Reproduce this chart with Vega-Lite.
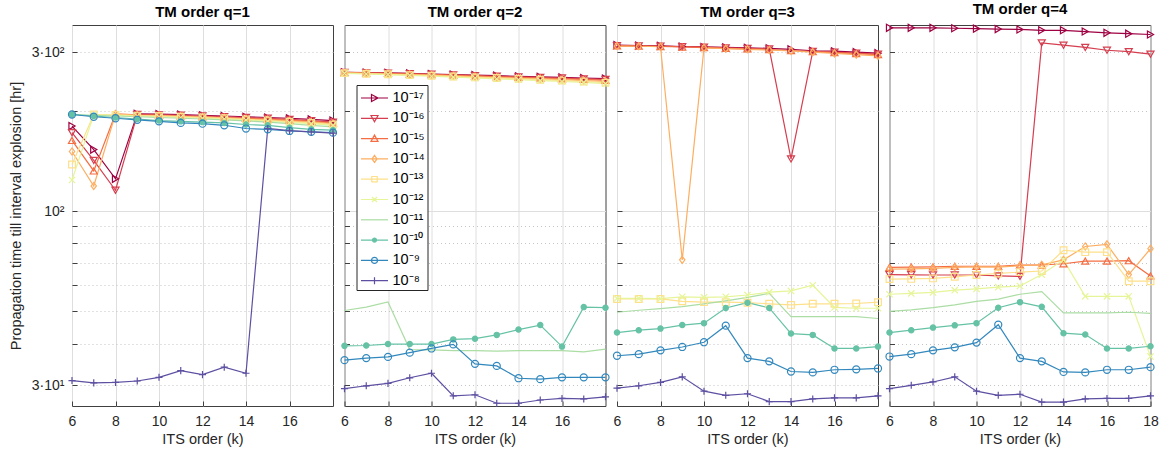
{
"$schema": "https://vega.github.io/schema/vega-lite/v6.json",
"background": "white",
"padding": {"left": 7, "top": 1, "right": 2, "bottom": 2},
"spacing": 11.5,
"bounds": "flush",
"resolve": {"legend": {"color": "independent", "stroke": "independent", "shape": "independent", "fill": "independent"}},
"config": {
 "font": "Liberation Sans",
 "view": {"stroke": "#404040", "strokeWidth": 1},
 "axis": {"labelFont": "Liberation Sans", "labelFontSize": 14, "labelColor": "#262626", "labelFlush": false, "titleFont": "Liberation Sans", "titleFontSize": 14.5, "titleFontWeight": "normal", "titleColor": "#262626", "domain": false, "tickColor": "#404040", "tickSize": -5, "tickWidth": 1, "gridColor": "#dedede", "gridWidth": 1},
 "title": {"font": "Liberation Sans", "fontSize": 15, "fontWeight": "bold", "color": "#000000", "offset": 5, "baseline": "alphabetic"}
},
"datasets": {
"p1": [
{"s":17,"k":6,"t":180},{"s":17,"k":7,"t":153},{"s":17,"k":8,"t":125},{"s":17,"k":9,"t":196},{"s":17,"k":10,"t":195.5},{"s":17,"k":11,"t":195},{"s":17,"k":12,"t":194},{"s":17,"k":13,"t":193},{"s":17,"k":14,"t":192},{"s":17,"k":15,"t":191},{"s":17,"k":16,"t":190},{"s":17,"k":17,"t":188.5},{"s":17,"k":18,"t":187},
{"s":16,"k":6,"t":172},{"s":16,"k":7,"t":142},{"s":16,"k":8,"t":115.5},{"s":16,"k":9,"t":195},{"s":16,"k":10,"t":194.5},{"s":16,"k":11,"t":194},{"s":16,"k":12,"t":193},{"s":16,"k":13,"t":192},{"s":16,"k":14,"t":191},{"s":16,"k":15,"t":190},{"s":16,"k":16,"t":188.5},{"s":16,"k":17,"t":187},{"s":16,"k":18,"t":185},
{"s":15,"k":6,"t":163},{"s":15,"k":7,"t":132},{"s":15,"k":8,"t":196},{"s":15,"k":9,"t":194.5},{"s":15,"k":10,"t":194},{"s":15,"k":11,"t":193},{"s":15,"k":12,"t":192},{"s":15,"k":13,"t":191},{"s":15,"k":14,"t":190},{"s":15,"k":15,"t":189},{"s":15,"k":16,"t":187.5},{"s":15,"k":17,"t":186},{"s":15,"k":18,"t":184},
{"s":14,"k":6,"t":151},{"s":14,"k":7,"t":119},{"s":14,"k":8,"t":195.5},{"s":14,"k":9,"t":194},{"s":14,"k":10,"t":193.5},{"s":14,"k":11,"t":192.5},{"s":14,"k":12,"t":191.5},{"s":14,"k":13,"t":190.5},{"s":14,"k":14,"t":189},{"s":14,"k":15,"t":188},{"s":14,"k":16,"t":186.5},{"s":14,"k":17,"t":185},{"s":14,"k":18,"t":183},
{"s":13,"k":6,"t":138},{"s":13,"k":7,"t":195},{"s":13,"k":8,"t":194.5},{"s":13,"k":9,"t":193.5},{"s":13,"k":10,"t":193},{"s":13,"k":11,"t":192},{"s":13,"k":12,"t":191},{"s":13,"k":13,"t":190},{"s":13,"k":14,"t":188.5},{"s":13,"k":15,"t":187},{"s":13,"k":16,"t":185.5},{"s":13,"k":17,"t":184},{"s":13,"k":18,"t":182},
{"s":12,"k":6,"t":124},{"s":12,"k":7,"t":194.5},{"s":12,"k":8,"t":194},{"s":12,"k":9,"t":193},{"s":12,"k":10,"t":192},{"s":12,"k":11,"t":191},{"s":12,"k":12,"t":190},{"s":12,"k":13,"t":189},{"s":12,"k":14,"t":187.5},{"s":12,"k":15,"t":186},{"s":12,"k":16,"t":184.5},{"s":12,"k":17,"t":183},{"s":12,"k":18,"t":181},
{"s":11,"k":6,"t":195},{"s":11,"k":7,"t":194},{"s":11,"k":8,"t":193},{"s":11,"k":9,"t":192},{"s":11,"k":10,"t":191},{"s":11,"k":11,"t":190},{"s":11,"k":12,"t":189},{"s":11,"k":13,"t":188},{"s":11,"k":14,"t":186.5},{"s":11,"k":15,"t":185},{"s":11,"k":16,"t":183},{"s":11,"k":17,"t":181},{"s":11,"k":18,"t":179},
{"s":10,"k":6,"t":195},{"s":10,"k":7,"t":193},{"s":10,"k":8,"t":191},{"s":10,"k":9,"t":189},{"s":10,"k":10,"t":187},{"s":10,"k":11,"t":186},{"s":10,"k":12,"t":185},{"s":10,"k":13,"t":184},{"s":10,"k":14,"t":182},{"s":10,"k":15,"t":181},{"s":10,"k":16,"t":178},{"s":10,"k":17,"t":176},{"s":10,"k":18,"t":175},
{"s":9,"k":6,"t":195},{"s":9,"k":7,"t":192},{"s":9,"k":8,"t":190},{"s":9,"k":9,"t":188},{"s":9,"k":10,"t":186},{"s":9,"k":11,"t":184},{"s":9,"k":12,"t":183},{"s":9,"k":13,"t":181},{"s":9,"k":14,"t":177},{"s":9,"k":15,"t":176},{"s":9,"k":16,"t":174},{"s":9,"k":17,"t":173},{"s":9,"k":18,"t":172},
{"s":8,"k":6,"t":31},{"s":8,"k":7,"t":30.5},{"s":8,"k":8,"t":30.6},{"s":8,"k":9,"t":30.9},{"s":8,"k":10,"t":31.7},{"s":8,"k":11,"t":33.2},{"s":8,"k":12,"t":32.3},{"s":8,"k":13,"t":34},{"s":8,"k":14,"t":32.6},{"s":8,"k":15,"t":177},{"s":8,"k":16,"t":174.5},{"s":8,"k":17,"t":173},{"s":8,"k":18,"t":171.5}
],
"p2": [
{"s":17,"k":6,"t":261},{"s":17,"k":7,"t":260.5},{"s":17,"k":8,"t":260},{"s":17,"k":9,"t":259},{"s":17,"k":10,"t":258},{"s":17,"k":11,"t":257},{"s":17,"k":12,"t":256},{"s":17,"k":13,"t":255},{"s":17,"k":14,"t":254},{"s":17,"k":15,"t":253},{"s":17,"k":16,"t":252},{"s":17,"k":17,"t":251},{"s":17,"k":18,"t":250},
{"s":16,"k":6,"t":261},{"s":16,"k":7,"t":260},{"s":16,"k":8,"t":259.5},{"s":16,"k":9,"t":258.5},{"s":16,"k":10,"t":257.5},{"s":16,"k":11,"t":256.5},{"s":16,"k":12,"t":255},{"s":16,"k":13,"t":254},{"s":16,"k":14,"t":253},{"s":16,"k":15,"t":252},{"s":16,"k":16,"t":251},{"s":16,"k":17,"t":249.5},{"s":16,"k":18,"t":248.5},
{"s":15,"k":6,"t":260.5},{"s":15,"k":7,"t":259.5},{"s":15,"k":8,"t":259},{"s":15,"k":9,"t":258},{"s":15,"k":10,"t":257},{"s":15,"k":11,"t":255.5},{"s":15,"k":12,"t":254.5},{"s":15,"k":13,"t":253},{"s":15,"k":14,"t":252},{"s":15,"k":15,"t":251},{"s":15,"k":16,"t":249.5},{"s":15,"k":17,"t":248.5},{"s":15,"k":18,"t":247},
{"s":14,"k":6,"t":260},{"s":14,"k":7,"t":259},{"s":14,"k":8,"t":258},{"s":14,"k":9,"t":257},{"s":14,"k":10,"t":256},{"s":14,"k":11,"t":254.5},{"s":14,"k":12,"t":253},{"s":14,"k":13,"t":252},{"s":14,"k":14,"t":250.5},{"s":14,"k":15,"t":249.5},{"s":14,"k":16,"t":248},{"s":14,"k":17,"t":246.5},{"s":14,"k":18,"t":245},
{"s":13,"k":6,"t":259.5},{"s":13,"k":7,"t":258.5},{"s":13,"k":8,"t":257.5},{"s":13,"k":9,"t":256},{"s":13,"k":10,"t":255},{"s":13,"k":11,"t":253.5},{"s":13,"k":12,"t":252},{"s":13,"k":13,"t":251},{"s":13,"k":14,"t":249.5},{"s":13,"k":15,"t":248},{"s":13,"k":16,"t":246.5},{"s":13,"k":17,"t":245},{"s":13,"k":18,"t":243},
{"s":12,"k":6,"t":259},{"s":12,"k":7,"t":258},{"s":12,"k":8,"t":257},{"s":12,"k":9,"t":255.5},{"s":12,"k":10,"t":254},{"s":12,"k":11,"t":252.5},{"s":12,"k":12,"t":251},{"s":12,"k":13,"t":249.5},{"s":12,"k":14,"t":248},{"s":12,"k":15,"t":246.5},{"s":12,"k":16,"t":245},{"s":12,"k":17,"t":243.5},{"s":12,"k":18,"t":241.5},
{"s":11,"k":6,"t":50.3},{"s":11,"k":7,"t":51.5},{"s":11,"k":8,"t":53.4},{"s":11,"k":9,"t":38.4},{"s":11,"k":10,"t":38.3},{"s":11,"k":11,"t":38.1},{"s":11,"k":12,"t":38.1},{"s":11,"k":13,"t":38},{"s":11,"k":14,"t":38.1},{"s":11,"k":15,"t":38.1},{"s":11,"k":16,"t":38.1},{"s":11,"k":17,"t":37.8},{"s":11,"k":18,"t":38.5},
{"s":10,"k":6,"t":39.4},{"s":10,"k":7,"t":39.5},{"s":10,"k":8,"t":39.9},{"s":10,"k":9,"t":39.9},{"s":10,"k":10,"t":39.9},{"s":10,"k":11,"t":41.2},{"s":10,"k":12,"t":41.4},{"s":10,"k":13,"t":42.5},{"s":10,"k":14,"t":44.1},{"s":10,"k":15,"t":45.5},{"s":10,"k":16,"t":39.2},{"s":10,"k":17,"t":51.5},{"s":10,"k":18,"t":51.3},
{"s":9,"k":6,"t":35.7},{"s":9,"k":7,"t":36.2},{"s":9,"k":8,"t":36.5},{"s":9,"k":9,"t":37.6},{"s":9,"k":10,"t":38.7},{"s":9,"k":11,"t":39.8},{"s":9,"k":12,"t":34.8},{"s":9,"k":13,"t":34.3},{"s":9,"k":14,"t":31.5},{"s":9,"k":15,"t":31.3},{"s":9,"k":16,"t":31.7},{"s":9,"k":17,"t":31.7},{"s":9,"k":18,"t":31.7},
{"s":8,"k":6,"t":29.3},{"s":8,"k":7,"t":29.9},{"s":8,"k":8,"t":30.4},{"s":8,"k":9,"t":31.6},{"s":8,"k":10,"t":32.6},{"s":8,"k":11,"t":27.9},{"s":8,"k":12,"t":28.1},{"s":8,"k":13,"t":26.5},{"s":8,"k":14,"t":26.5},{"s":8,"k":15,"t":27.1},{"s":8,"k":16,"t":27.4},{"s":8,"k":17,"t":27.3},{"s":8,"k":18,"t":27.7}
],
"p3": [
{"s":17,"k":6,"t":315},{"s":17,"k":7,"t":314},{"s":17,"k":8,"t":313.5},{"s":17,"k":9,"t":312},{"s":17,"k":10,"t":311},{"s":17,"k":11,"t":310},{"s":17,"k":12,"t":309},{"s":17,"k":13,"t":308},{"s":17,"k":14,"t":306},{"s":17,"k":15,"t":303},{"s":17,"k":16,"t":302},{"s":17,"k":17,"t":300},{"s":17,"k":18,"t":298},
{"s":16,"k":6,"t":314},{"s":16,"k":7,"t":313.5},{"s":16,"k":8,"t":313},{"s":16,"k":9,"t":311.5},{"s":16,"k":10,"t":310.5},{"s":16,"k":11,"t":309},{"s":16,"k":12,"t":308},{"s":16,"k":13,"t":307},{"s":16,"k":14,"t":143.5},{"s":16,"k":15,"t":301.5},{"s":16,"k":16,"t":300},{"s":16,"k":17,"t":298},{"s":16,"k":18,"t":296},
{"s":15,"k":6,"t":313.5},{"s":15,"k":7,"t":313},{"s":15,"k":8,"t":312},{"s":15,"k":9,"t":311},{"s":15,"k":10,"t":309.5},{"s":15,"k":11,"t":308},{"s":15,"k":12,"t":307},{"s":15,"k":13,"t":305.5},{"s":15,"k":14,"t":303.5},{"s":15,"k":15,"t":301},{"s":15,"k":16,"t":299},{"s":15,"k":17,"t":297},{"s":15,"k":18,"t":295},
{"s":14,"k":6,"t":313},{"s":14,"k":7,"t":312.5},{"s":14,"k":8,"t":311.5},{"s":14,"k":9,"t":71.4},{"s":14,"k":10,"t":309},{"s":14,"k":11,"t":307.5},{"s":14,"k":12,"t":306},{"s":14,"k":13,"t":304.5},{"s":14,"k":14,"t":302.5},{"s":14,"k":15,"t":300},{"s":14,"k":16,"t":297.5},{"s":14,"k":17,"t":295},{"s":14,"k":18,"t":292.5},
{"s":13,"k":6,"t":54.5},{"s":13,"k":7,"t":54.5},{"s":13,"k":8,"t":54.5},{"s":13,"k":9,"t":53.6},{"s":13,"k":10,"t":53.3},{"s":13,"k":11,"t":53.3},{"s":13,"k":12,"t":53.1},{"s":13,"k":13,"t":52.7},{"s":13,"k":14,"t":52.3},{"s":13,"k":15,"t":52.7},{"s":13,"k":16,"t":52.7},{"s":13,"k":17,"t":52.8},{"s":13,"k":18,"t":53.3},
{"s":12,"k":6,"t":54.7},{"s":12,"k":7,"t":54.7},{"s":12,"k":8,"t":54.6},{"s":12,"k":9,"t":55.3},{"s":12,"k":10,"t":55.1},{"s":12,"k":11,"t":55.3},{"s":12,"k":12,"t":56},{"s":12,"k":13,"t":57.1},{"s":12,"k":14,"t":57.6},{"s":12,"k":15,"t":59.9},{"s":12,"k":16,"t":51.4},{"s":12,"k":17,"t":51.1},{"s":12,"k":18,"t":51.1},
{"s":11,"k":6,"t":49.7},{"s":11,"k":7,"t":50.4},{"s":11,"k":8,"t":51},{"s":11,"k":9,"t":51.7},{"s":11,"k":10,"t":52.7},{"s":11,"k":11,"t":53.8},{"s":11,"k":12,"t":55.1},{"s":11,"k":13,"t":56.6},{"s":11,"k":14,"t":48.2},{"s":11,"k":15,"t":48.2},{"s":11,"k":16,"t":48.2},{"s":11,"k":17,"t":48.2},{"s":11,"k":18,"t":47.6},
{"s":10,"k":6,"t":43.2},{"s":10,"k":7,"t":43.9},{"s":10,"k":8,"t":44.4},{"s":10,"k":9,"t":45.5},{"s":10,"k":10,"t":46.1},{"s":10,"k":11,"t":51.2},{"s":10,"k":12,"t":53.1},{"s":10,"k":13,"t":51.2},{"s":10,"k":14,"t":42.9},{"s":10,"k":15,"t":42.5},{"s":10,"k":16,"t":38.7},{"s":10,"k":17,"t":38.7},{"s":10,"k":18,"t":39.2},
{"s":9,"k":6,"t":36.8},{"s":9,"k":7,"t":37.2},{"s":9,"k":8,"t":38.2},{"s":9,"k":9,"t":39.1},{"s":9,"k":10,"t":40.4},{"s":9,"k":11,"t":45.3},{"s":9,"k":12,"t":36.2},{"s":9,"k":13,"t":35.4},{"s":9,"k":14,"t":33},{"s":9,"k":15,"t":32.8},{"s":9,"k":16,"t":33.4},{"s":9,"k":17,"t":33.5},{"s":9,"k":18,"t":33.7},
{"s":8,"k":6,"t":29.4},{"s":8,"k":7,"t":29.9},{"s":8,"k":8,"t":30.6},{"s":8,"k":9,"t":31.8},{"s":8,"k":10,"t":28.8},{"s":8,"k":11,"t":28},{"s":8,"k":12,"t":28.3},{"s":8,"k":13,"t":26.8},{"s":8,"k":14,"t":26.8},{"s":8,"k":15,"t":27.3},{"s":8,"k":16,"t":27.5},{"s":8,"k":17,"t":27.5},{"s":8,"k":18,"t":27.9}
],
"p4": [
{"s":17,"k":6,"t":355},{"s":17,"k":7,"t":355},{"s":17,"k":8,"t":355},{"s":17,"k":9,"t":354},{"s":17,"k":10,"t":353},{"s":17,"k":11,"t":352},{"s":17,"k":12,"t":351},{"s":17,"k":13,"t":349},{"s":17,"k":14,"t":349},{"s":17,"k":15,"t":346},{"s":17,"k":16,"t":343},{"s":17,"k":17,"t":341},{"s":17,"k":18,"t":339},
{"s":16,"k":6,"t":64.5},{"s":16,"k":7,"t":64.4},{"s":16,"k":8,"t":64.3},{"s":16,"k":9,"t":64.3},{"s":16,"k":10,"t":64.3},{"s":16,"k":11,"t":63.9},{"s":16,"k":12,"t":63.7},{"s":16,"k":13,"t":320},{"s":16,"k":14,"t":315},{"s":16,"k":15,"t":310},{"s":16,"k":16,"t":304},{"s":16,"k":17,"t":301},{"s":16,"k":18,"t":296},
{"s":15,"k":6,"t":67.8},{"s":15,"k":7,"t":67.9},{"s":15,"k":8,"t":68},{"s":15,"k":9,"t":68.3},{"s":15,"k":10,"t":68.3},{"s":15,"k":11,"t":68.3},{"s":15,"k":12,"t":68.9},{"s":15,"k":13,"t":68.9},{"s":15,"k":14,"t":69.5},{"s":15,"k":15,"t":70.8},{"s":15,"k":16,"t":70.8},{"s":15,"k":17,"t":71},{"s":15,"k":18,"t":63.9},
{"s":14,"k":6,"t":67},{"s":14,"k":7,"t":67.1},{"s":14,"k":8,"t":67.3},{"s":14,"k":9,"t":67.8},{"s":14,"k":10,"t":68},{"s":14,"k":11,"t":67.9},{"s":14,"k":12,"t":68.6},{"s":14,"k":13,"t":69},{"s":14,"k":14,"t":71.4},{"s":14,"k":15,"t":78.3},{"s":14,"k":16,"t":79.5},{"s":14,"k":17,"t":64.5},{"s":14,"k":18,"t":77.1},
{"s":13,"k":6,"t":62.5},{"s":13,"k":7,"t":62.6},{"s":13,"k":8,"t":62.8},{"s":13,"k":9,"t":63.5},{"s":13,"k":10,"t":64.3},{"s":13,"k":11,"t":65},{"s":13,"k":12,"t":65.6},{"s":13,"k":13,"t":66.1},{"s":13,"k":14,"t":76.3},{"s":13,"k":15,"t":75.3},{"s":13,"k":16,"t":75.3},{"s":13,"k":17,"t":61.6},{"s":13,"k":18,"t":61.6},
{"s":12,"k":6,"t":56.3},{"s":12,"k":7,"t":56.6},{"s":12,"k":8,"t":57},{"s":12,"k":9,"t":57.9},{"s":12,"k":10,"t":58.4},{"s":12,"k":11,"t":59.1},{"s":12,"k":12,"t":59.6},{"s":12,"k":13,"t":64.5},{"s":12,"k":14,"t":71.4},{"s":12,"k":15,"t":55.5},{"s":12,"k":16,"t":55.5},{"s":12,"k":17,"t":55.5},{"s":12,"k":18,"t":36.6},
{"s":11,"k":6,"t":50},{"s":11,"k":7,"t":50.5},{"s":11,"k":8,"t":51.3},{"s":11,"k":9,"t":52.3},{"s":11,"k":10,"t":53.6},{"s":11,"k":11,"t":54.4},{"s":11,"k":12,"t":56.3},{"s":11,"k":13,"t":57.3},{"s":11,"k":14,"t":49.5},{"s":11,"k":15,"t":49.5},{"s":11,"k":16,"t":49.5},{"s":11,"k":17,"t":49.7},{"s":11,"k":18,"t":49.3},
{"s":10,"k":6,"t":43.2},{"s":10,"k":7,"t":43.9},{"s":10,"k":8,"t":44.7},{"s":10,"k":9,"t":45.4},{"s":10,"k":10,"t":46.1},{"s":10,"k":11,"t":51.3},{"s":10,"k":12,"t":53.3},{"s":10,"k":13,"t":51.6},{"s":10,"k":14,"t":43},{"s":10,"k":15,"t":42.6},{"s":10,"k":16,"t":38.7},{"s":10,"k":17,"t":38.7},{"s":10,"k":18,"t":39.3},
{"s":9,"k":6,"t":36.6},{"s":9,"k":7,"t":37.2},{"s":9,"k":8,"t":38.2},{"s":9,"k":9,"t":39},{"s":9,"k":10,"t":40.3},{"s":9,"k":11,"t":45.6},{"s":9,"k":12,"t":36.2},{"s":9,"k":13,"t":35.4},{"s":9,"k":14,"t":32.9},{"s":9,"k":15,"t":32.8},{"s":9,"k":16,"t":33.4},{"s":9,"k":17,"t":33.4},{"s":9,"k":18,"t":34},
{"s":8,"k":6,"t":29.3},{"s":8,"k":7,"t":30},{"s":8,"k":8,"t":30.7},{"s":8,"k":9,"t":31.8},{"s":8,"k":10,"t":28.8},{"s":8,"k":11,"t":28},{"s":8,"k":12,"t":28.2},{"s":8,"k":13,"t":26.7},{"s":8,"k":14,"t":26.7},{"s":8,"k":15,"t":27.3},{"s":8,"k":16,"t":27.4},{"s":8,"k":17,"t":27.4},{"s":8,"k":18,"t":27.9}
]
},
"hconcat": [
{
 "width": 261, "height": 381,
 "data": {"name": "p1"},
 "title": "TM order q=1",
 "encoding": {
  "x": {"field": "k", "type": "quantitative", "scale": {"domain": [6, 18], "nice": false, "zero": false}, "axis": {"values": [6, 8, 10, 12, 14, 16], "title": "ITS order (k)", "labelPadding": 13, "titlePadding": 4}},
  "y": {"field": "t", "type": "quantitative", "scale": {"type": "log", "domain": [26, 362], "nice": false}, "axis": {"values": [30, 40, 50, 60, 70, 80, 90, 100, 200, 300], "labelExpr": "datum.value == 300 ? '3·10²' : datum.value == 100 ? '10²' : datum.value == 30 ? '3·10¹' : ''", "gridDash": {"condition": {"test": "datum.value == 100", "value": []}, "value": [1, 3]}, "gridColor": {"condition": {"test": "datum.value == 100", "value": "#dedede"}, "value": "#c4c4c4"}, "labelPadding": 13, "title": "Propagation time till interval explosion [hr]", "titlePadding": 8}}
 },
 "layer": [
  {"mark": {"type": "line", "strokeWidth": 1.2}, "encoding": {"color": {"field": "s", "type": "nominal", "scale": {"domain": [17, 16, 15, 14, 13, 12, 11, 10, 9, 8], "range": ["#9e0142", "#d53e4f", "#f46d43", "#fdae61", "#fee08b", "#e6f598", "#abdda4", "#66c2a5", "#3288bd", "#5e4fa2"]}, "legend": null}}},
  {"transform": [{"filter": "datum.s == 17"}], "mark": {"type": "point", "shape": "triangle-right", "filled": false, "size": 50, "strokeWidth": 1.2, "opacity": 1}, "encoding": {"stroke": {"field": "s", "type": "nominal", "scale": {"domain": [17, 16, 15, 14, 13, 12, 11, 10, 9, 8], "range": ["#9e0142", "#d53e4f", "#f46d43", "#fdae61", "#fee08b", "#e6f598", "#abdda4", "#66c2a5", "#3288bd", "#5e4fa2"]}, "legend": null}}},
  {"transform": [{"filter": "datum.s == 16"}], "mark": {"type": "point", "shape": "triangle-down", "filled": false, "size": 50, "strokeWidth": 1.2, "opacity": 1}, "encoding": {"stroke": {"field": "s", "type": "nominal", "legend": null}}},
  {"transform": [{"filter": "datum.s == 15"}], "mark": {"type": "point", "shape": "triangle-up", "filled": false, "size": 50, "strokeWidth": 1.2, "opacity": 1}, "encoding": {"stroke": {"field": "s", "type": "nominal", "legend": null}}},
  {"transform": [{"filter": "datum.s == 14"}], "mark": {"type": "point", "shape": "M0,-1L0.75,0L0,1L-0.75,0Z", "filled": false, "size": 50, "strokeWidth": 1.2, "opacity": 1}, "encoding": {"stroke": {"field": "s", "type": "nominal", "legend": null}}},
  {"transform": [{"filter": "datum.s == 13"}], "mark": {"type": "point", "shape": "square", "filled": false, "size": 45, "strokeWidth": 1.2, "opacity": 1}, "encoding": {"stroke": {"field": "s", "type": "nominal", "legend": null}}},
  {"transform": [{"filter": "datum.s == 12"}], "mark": {"type": "point", "shape": "M-1,-1L1,1M1,-1L-1,1", "filled": false, "size": 40, "strokeWidth": 1.2, "opacity": 1}, "encoding": {"stroke": {"field": "s", "type": "nominal", "legend": null}}},
  {"transform": [{"filter": "datum.s == 10"}], "mark": {"type": "point", "shape": "circle", "filled": false, "size": 28, "strokeWidth": 1.2, "opacity": 1}, "encoding": {"fill": {"value": "#66c2a5"}, "stroke": {"field": "s", "type": "nominal", "legend": null}}},
  {"transform": [{"filter": "datum.s == 9"}], "mark": {"type": "point", "shape": "circle", "filled": false, "size": 50, "strokeWidth": 1.2, "opacity": 1}, "encoding": {"stroke": {"field": "s", "type": "nominal", "legend": null}}},
  {"transform": [{"filter": "datum.s == 8"}], "mark": {"type": "point", "shape": "M-1,0L1,0M0,-1L0,1", "filled": false, "size": 50, "strokeWidth": 1.2, "opacity": 1}, "encoding": {"stroke": {"field": "s", "type": "nominal", "legend": null}}}
 ]
},
{
 "width": 261, "height": 381,
 "data": {"name": "p2"},
 "title": "TM order q=2",
 "encoding": {
  "x": {"field": "k", "type": "quantitative", "scale": {"domain": [6, 18], "nice": false, "zero": false}, "axis": {"values": [6, 8, 10, 12, 14, 16], "title": "ITS order (k)", "labelPadding": 13, "titlePadding": 4}},
  "y": {"field": "t", "type": "quantitative", "scale": {"type": "log", "domain": [26, 362], "nice": false}, "axis": {"values": [30, 40, 50, 60, 70, 80, 90, 100, 200, 300], "labels": false, "gridDash": {"condition": {"test": "datum.value == 100", "value": []}, "value": [1, 3]}, "gridColor": {"condition": {"test": "datum.value == 100", "value": "#dedede"}, "value": "#c4c4c4"}, "title": null}}
 },
 "layer": [
  {"mark": {"type": "line", "strokeWidth": 1.2}, "encoding": {"color": {"field": "s", "type": "nominal", "scale": {"domain": [17, 16, 15, 14, 13, 12, 11, 10, 9, 8], "range": ["#9e0142", "#d53e4f", "#f46d43", "#fdae61", "#fee08b", "#e6f598", "#abdda4", "#66c2a5", "#3288bd", "#5e4fa2"]},
   "legend": {"orient": "none", "legendX": 12, "legendY": 60, "title": null, "padding": 2, "symbolOffset": 5, "labelOffset": 7, "rowPadding": 2.3, "symbolSize": 400, "symbolStrokeWidth": 1.2, "labelFontSize": 14.5, "labelFont": "Liberation Sans", "labelColor": "#000000", "strokeColor": "#262626", "fillColor": "white",
    "labelExpr": "['10⁻¹⁷','10⁻¹⁶','10⁻¹⁵','10⁻¹⁴','10⁻¹³','10⁻¹²','10⁻¹¹','10⁻¹⁰','10⁻⁹','10⁻⁸'][17 - datum.value]"}}}},
  {"transform": [{"filter": "datum.s == 17"}], "mark": {"type": "point", "shape": "triangle-right", "filled": false, "size": 50, "strokeWidth": 1.2, "opacity": 1}, "encoding": {"stroke": {"field": "s", "type": "nominal", "legend": null}}},
  {"transform": [{"filter": "datum.s == 16"}], "mark": {"type": "point", "shape": "triangle-down", "filled": false, "size": 50, "strokeWidth": 1.2, "opacity": 1}, "encoding": {"stroke": {"field": "s", "type": "nominal", "legend": null}}},
  {"transform": [{"filter": "datum.s == 15"}], "mark": {"type": "point", "shape": "triangle-up", "filled": false, "size": 50, "strokeWidth": 1.2, "opacity": 1}, "encoding": {"stroke": {"field": "s", "type": "nominal", "legend": null}}},
  {"transform": [{"filter": "datum.s == 14"}], "mark": {"type": "point", "shape": "M0,-1L0.75,0L0,1L-0.75,0Z", "filled": false, "size": 50, "strokeWidth": 1.2, "opacity": 1}, "encoding": {"stroke": {"field": "s", "type": "nominal", "legend": null}}},
  {"transform": [{"filter": "datum.s == 13"}], "mark": {"type": "point", "shape": "square", "filled": false, "size": 45, "strokeWidth": 1.2, "opacity": 1}, "encoding": {"stroke": {"field": "s", "type": "nominal", "legend": null}}},
  {"transform": [{"filter": "datum.s == 12"}], "mark": {"type": "point", "shape": "M-1,-1L1,1M1,-1L-1,1", "filled": false, "size": 40, "strokeWidth": 1.2, "opacity": 1}, "encoding": {"stroke": {"field": "s", "type": "nominal", "legend": null}}},
  {"transform": [{"filter": "datum.s == 10"}], "mark": {"type": "point", "shape": "circle", "filled": false, "size": 28, "strokeWidth": 1.2, "opacity": 1}, "encoding": {"fill": {"value": "#66c2a5"}, "stroke": {"field": "s", "type": "nominal", "legend": null}}},
  {"transform": [{"filter": "datum.s == 9"}], "mark": {"type": "point", "shape": "circle", "filled": false, "size": 50, "strokeWidth": 1.2, "opacity": 1}, "encoding": {"stroke": {"field": "s", "type": "nominal", "legend": null}}},
  {"transform": [{"filter": "datum.s == 8"}], "mark": {"type": "point", "shape": "M-1,0L1,0M0,-1L0,1", "filled": false, "size": 50, "strokeWidth": 1.2, "opacity": 1}, "encoding": {"stroke": {"field": "s", "type": "nominal", "legend": null}}},
  {"transform": [{"filter": "datum.k < 0"}], "mark": {"type": "point", "filled": false, "strokeWidth": 1.2, "opacity": 1}, "encoding": {"color": {"field": "s", "type": "nominal"}, "shape": {"field": "s", "type": "nominal", "scale": {"domain": [17, 16, 15, 14, 13, 12, 11, 10, 9, 8], "range": ["M-1.35,0L1.35,0M-0.3,-0.35L0.35,0L-0.3,0.35Z", "M-1.35,0L1.35,0M-0.35,-0.28L0.35,-0.28L0,0.35Z", "M-1.35,0L1.35,0M-0.35,0.28L0.35,0.28L0,-0.35Z", "M-1.35,0L1.35,0M0,-0.35L0.25,0L0,0.35L-0.25,0Z", "M-1.35,0L1.35,0M-0.27,-0.27L0.27,-0.27L0.27,0.27L-0.27,0.27Z", "M-1.35,0L1.35,0M-0.25,-0.25L0.25,0.25M0.25,-0.25L-0.25,0.25", "M-1.35,0L1.35,0", "M-1.35,0L1.35,0M0.2,0A0.2,0.2,0,1,1,-0.2,0A0.2,0.2,0,1,1,0.2,0Z", "M-1.35,0L1.35,0M0.3,0A0.3,0.3,0,1,1,-0.3,0A0.3,0.3,0,1,1,0.3,0Z", "M-1.35,0L1.35,0M0,-0.35L0,0.35"]}}, "fill": {"field": "s", "type": "nominal", "scale": {"domain": [17, 16, 15, 14, 13, 12, 11, 10, 9, 8], "range": ["transparent", "transparent", "transparent", "transparent", "transparent", "transparent", "transparent", "#66c2a5", "transparent", "transparent"]}}}}
 ]
},
{
 "width": 261, "height": 381,
 "data": {"name": "p3"},
 "title": "TM order q=3",
 "encoding": {
  "x": {"field": "k", "type": "quantitative", "scale": {"domain": [6, 18], "nice": false, "zero": false}, "axis": {"values": [6, 8, 10, 12, 14, 16], "title": "ITS order (k)", "labelPadding": 13, "titlePadding": 4}},
  "y": {"field": "t", "type": "quantitative", "scale": {"type": "log", "domain": [26, 362], "nice": false}, "axis": {"values": [30, 40, 50, 60, 70, 80, 90, 100, 200, 300], "labels": false, "gridDash": {"condition": {"test": "datum.value == 100", "value": []}, "value": [1, 3]}, "gridColor": {"condition": {"test": "datum.value == 100", "value": "#dedede"}, "value": "#c4c4c4"}, "title": null}}
 },
 "layer": [
  {"mark": {"type": "line", "strokeWidth": 1.2}, "encoding": {"color": {"field": "s", "type": "nominal", "legend": null}}},
  {"transform": [{"filter": "datum.s == 17"}], "mark": {"type": "point", "shape": "triangle-right", "filled": false, "size": 50, "strokeWidth": 1.2, "opacity": 1}, "encoding": {"stroke": {"field": "s", "type": "nominal", "legend": null}}},
  {"transform": [{"filter": "datum.s == 16"}], "mark": {"type": "point", "shape": "triangle-down", "filled": false, "size": 50, "strokeWidth": 1.2, "opacity": 1}, "encoding": {"stroke": {"field": "s", "type": "nominal", "legend": null}}},
  {"transform": [{"filter": "datum.s == 15"}], "mark": {"type": "point", "shape": "triangle-up", "filled": false, "size": 50, "strokeWidth": 1.2, "opacity": 1}, "encoding": {"stroke": {"field": "s", "type": "nominal", "legend": null}}},
  {"transform": [{"filter": "datum.s == 14"}], "mark": {"type": "point", "shape": "M0,-1L0.75,0L0,1L-0.75,0Z", "filled": false, "size": 50, "strokeWidth": 1.2, "opacity": 1}, "encoding": {"stroke": {"field": "s", "type": "nominal", "legend": null}}},
  {"transform": [{"filter": "datum.s == 13"}], "mark": {"type": "point", "shape": "square", "filled": false, "size": 45, "strokeWidth": 1.2, "opacity": 1}, "encoding": {"stroke": {"field": "s", "type": "nominal", "legend": null}}},
  {"transform": [{"filter": "datum.s == 12"}], "mark": {"type": "point", "shape": "M-1,-1L1,1M1,-1L-1,1", "filled": false, "size": 40, "strokeWidth": 1.2, "opacity": 1}, "encoding": {"stroke": {"field": "s", "type": "nominal", "legend": null}}},
  {"transform": [{"filter": "datum.s == 10"}], "mark": {"type": "point", "shape": "circle", "filled": false, "size": 28, "strokeWidth": 1.2, "opacity": 1}, "encoding": {"fill": {"value": "#66c2a5"}, "stroke": {"field": "s", "type": "nominal", "legend": null}}},
  {"transform": [{"filter": "datum.s == 9"}], "mark": {"type": "point", "shape": "circle", "filled": false, "size": 50, "strokeWidth": 1.2, "opacity": 1}, "encoding": {"stroke": {"field": "s", "type": "nominal", "legend": null}}},
  {"transform": [{"filter": "datum.s == 8"}], "mark": {"type": "point", "shape": "M-1,0L1,0M0,-1L0,1", "filled": false, "size": 50, "strokeWidth": 1.2, "opacity": 1}, "encoding": {"stroke": {"field": "s", "type": "nominal", "legend": null}}}
 ]
},
{
 "width": 261, "height": 381,
 "data": {"name": "p4"},
 "title": "TM order q=4",
 "encoding": {
  "x": {"field": "k", "type": "quantitative", "scale": {"domain": [6, 18], "nice": false, "zero": false}, "axis": {"values": [6, 8, 10, 12, 14, 16, 18], "title": "ITS order (k)", "labelPadding": 13, "titlePadding": 4}},
  "y": {"field": "t", "type": "quantitative", "scale": {"type": "log", "domain": [26, 362], "nice": false}, "axis": {"values": [30, 40, 50, 60, 70, 80, 90, 100, 200, 300], "labels": false, "gridDash": {"condition": {"test": "datum.value == 100", "value": []}, "value": [1, 3]}, "gridColor": {"condition": {"test": "datum.value == 100", "value": "#dedede"}, "value": "#c4c4c4"}, "title": null}}
 },
 "layer": [
  {"mark": {"type": "line", "strokeWidth": 1.2}, "encoding": {"color": {"field": "s", "type": "nominal", "legend": null}}},
  {"transform": [{"filter": "datum.s == 17"}], "mark": {"type": "point", "shape": "triangle-right", "filled": false, "size": 50, "strokeWidth": 1.2, "opacity": 1}, "encoding": {"stroke": {"field": "s", "type": "nominal", "legend": null}}},
  {"transform": [{"filter": "datum.s == 16"}], "mark": {"type": "point", "shape": "triangle-down", "filled": false, "size": 50, "strokeWidth": 1.2, "opacity": 1}, "encoding": {"stroke": {"field": "s", "type": "nominal", "legend": null}}},
  {"transform": [{"filter": "datum.s == 15"}], "mark": {"type": "point", "shape": "triangle-up", "filled": false, "size": 50, "strokeWidth": 1.2, "opacity": 1}, "encoding": {"stroke": {"field": "s", "type": "nominal", "legend": null}}},
  {"transform": [{"filter": "datum.s == 14"}], "mark": {"type": "point", "shape": "M0,-1L0.75,0L0,1L-0.75,0Z", "filled": false, "size": 50, "strokeWidth": 1.2, "opacity": 1}, "encoding": {"stroke": {"field": "s", "type": "nominal", "legend": null}}},
  {"transform": [{"filter": "datum.s == 13"}], "mark": {"type": "point", "shape": "square", "filled": false, "size": 45, "strokeWidth": 1.2, "opacity": 1}, "encoding": {"stroke": {"field": "s", "type": "nominal", "legend": null}}},
  {"transform": [{"filter": "datum.s == 12"}], "mark": {"type": "point", "shape": "M-1,-1L1,1M1,-1L-1,1", "filled": false, "size": 40, "strokeWidth": 1.2, "opacity": 1}, "encoding": {"stroke": {"field": "s", "type": "nominal", "legend": null}}},
  {"transform": [{"filter": "datum.s == 10"}], "mark": {"type": "point", "shape": "circle", "filled": false, "size": 28, "strokeWidth": 1.2, "opacity": 1}, "encoding": {"fill": {"value": "#66c2a5"}, "stroke": {"field": "s", "type": "nominal", "legend": null}}},
  {"transform": [{"filter": "datum.s == 9"}], "mark": {"type": "point", "shape": "circle", "filled": false, "size": 50, "strokeWidth": 1.2, "opacity": 1}, "encoding": {"stroke": {"field": "s", "type": "nominal", "legend": null}}},
  {"transform": [{"filter": "datum.s == 8"}], "mark": {"type": "point", "shape": "M-1,0L1,0M0,-1L0,1", "filled": false, "size": 50, "strokeWidth": 1.2, "opacity": 1}, "encoding": {"stroke": {"field": "s", "type": "nominal", "legend": null}}}
 ]
}
]
}
